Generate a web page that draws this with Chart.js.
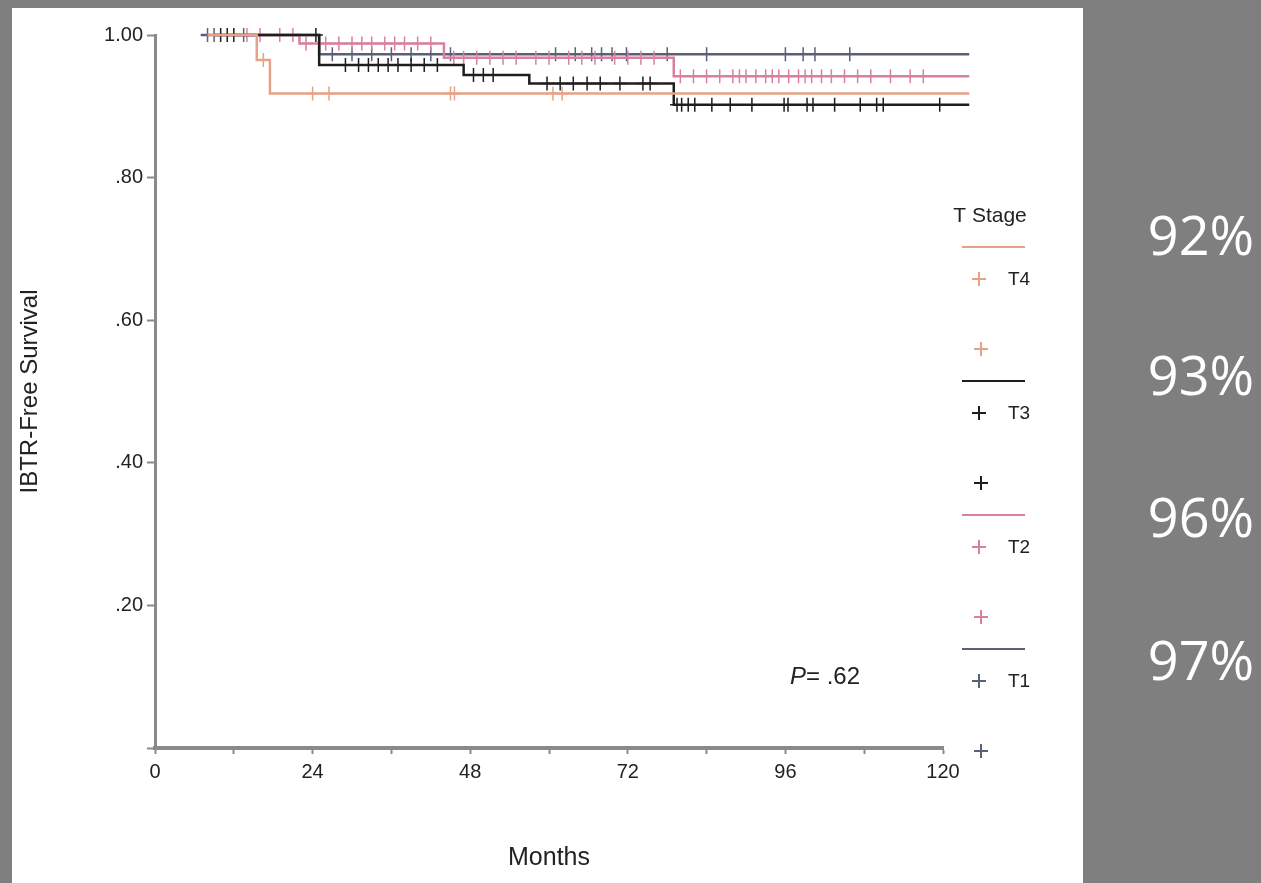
<!DOCTYPE html>
<html>
<head>
<meta charset="utf-8">
<script src="https://cdn.jsdelivr.net/npm/chart.js@4.4.1/dist/chart.umd.min.js"></script>
<style>
  html, body { margin: 0; padding: 0; }
  body { width: 1261px; height: 883px; background: #7f7f7f; position: relative; overflow: hidden; }
  #panel { position: absolute; left: 12px; top: 8px; width: 1071px; height: 875px; background: #fff; }
  .pct { position: absolute; left: 1101px; width: 200px; text-align: center; color: #fff;
         font-family: "Open Sans", sans-serif; font-size: 54px; line-height: 60px; }
</style>
</head>
<body>
<div id="panel"><canvas id="km" width="1071" height="875"></canvas></div>
<div id="pcts"></div>
<script>
// Kaplan-Meier steps (months, survival) per T stage
const groups = ['T4', 'T3', 'T2', 'T1'];

const t4Times = [8, 15.5, 17.5, 124];
const t4Surv = [1.0, 0.965, 0.918, 0.918];
const t4Censor = [16.5, 24, 26.5, 45, 45.6, 60.6, 62];

const t3Times = [9, 25, 47, 57, 79, 124];
const t3Surv = [1.0, 0.958, 0.944, 0.932, 0.902, 0.902];
const t3Censor = [10, 11, 12, 24.5, 29, 31, 32.5, 34, 35.5, 37, 39, 41, 43, 48.5, 50, 51.5,
  59.7, 61.7, 63.7, 65.8, 67.8, 70.8, 74.3, 75.4, 79.5, 80.2, 81.2, 82.2, 84.8, 87.6, 90.9,
  95.8, 96.4, 99.3, 100.2, 103.5, 107.4, 109.9, 110.9, 119.5];

const t2Times = [12, 22, 44, 79, 124];
const t2Surv = [1.0, 0.988, 0.968, 0.942, 0.942];
const t2Censor = [14, 16, 19, 21, 23, 26, 28, 30, 31.5, 33, 35, 36.5, 38, 40, 42, 45.5, 47, 49,
  51, 53, 55, 58, 60, 63, 65, 67, 70, 72, 74, 76, 80, 82, 84, 86, 88, 89, 90, 91.5, 93, 94, 95,
  96.5, 98, 99, 100, 101.5, 103, 105, 107, 109, 112, 115, 117];

const t1Times = [7, 25, 124];
const t1Surv = [1.0, 0.973, 0.973];
const t1Censor = [8, 9, 13.5, 27, 30, 33, 36, 39, 42, 45, 61, 64, 66.5, 68, 69.6, 71.8, 78, 84,
  96, 98.7, 100.5, 105.8];

const colors = ['#e6a286', '#1e1e1e', '#d9809f', '#5b6079'];
const pctLabels = ['92%', '93%', '96%', '97%'];
const pctTops = [204, 344, 486, 629];

const xTicks = [0, 24, 48, 72, 96, 120];
const pValue = '.62';

const allTimes = [t4Times, t3Times, t2Times, t1Times];
const allSurv = [t4Surv, t3Surv, t2Surv, t1Surv];
const allCensor = [t4Censor, t3Censor, t2Censor, t1Censor];

function survAt(times, surv, t) {
  let s = 1;
  times.forEach((tt, i) => { if (tt <= t) s = surv[i]; });
  return s;
}

const datasets = [];
groups.forEach((g, i) => {
  datasets.push({
    label: g,
    data: allTimes[i].map((t, j) => ({ x: t, y: allSurv[i][j] })),
    showLine: true,
    borderColor: colors[i],
    borderWidth: 2.5,
    stepped: true,
    pointRadius: 0,
    fill: false,
    clip: false
  });
  datasets.push({
    label: g + ' censored',
    data: allCensor[i].map(t => ({ x: t, y: survAt(allTimes[i], allSurv[i], t) })),
    showLine: false,
    pointStyle: 'cross',
    pointRadius: 7,
    pointBorderWidth: 1.5,
    pointBorderColor: colors[i],
    borderColor: colors[i],
    clip: false
  });
});

// SPSS-style legend + P value drawn next to the plot
const sideLegend = {
  id: 'sideLegend',
  afterDraw(chart) {
    const { ctx, chartArea } = chart;
    const x0 = chartArea.right;
    ctx.save();
    ctx.fillStyle = '#222';
    ctx.font = '21px "Liberation Sans", Arial, sans-serif';
    ctx.textAlign = 'center';
    ctx.textBaseline = 'middle';
    ctx.fillText('T Stage', x0 + 47, 208);

    const cross = (x, y, c) => {
      ctx.strokeStyle = c;
      ctx.lineWidth = 2;
      ctx.beginPath();
      ctx.moveTo(x - 7, y); ctx.lineTo(x + 7, y);
      ctx.moveTo(x, y - 7); ctx.lineTo(x, y + 7);
      ctx.stroke();
    };
    groups.forEach((g, k) => {
      const ly = 239 + k * 134;
      ctx.strokeStyle = colors[k];
      ctx.lineWidth = 2;
      ctx.beginPath();
      ctx.moveTo(x0 + 19, ly); ctx.lineTo(x0 + 82, ly);
      ctx.stroke();
      cross(x0 + 36, ly + 32, colors[k]);
      cross(x0 + 38, ly + 102, colors[k]);
      ctx.fillStyle = '#222';
      ctx.font = '19px "Liberation Sans", Arial, sans-serif';
      ctx.textAlign = 'left';
      ctx.fillText(g, x0 + 65, ly + 33);
    });

    ctx.textAlign = 'left';
    ctx.font = 'italic 24px "Liberation Sans", Arial, sans-serif';
    ctx.fillText('P', 778, 669);
    const pw = ctx.measureText('P').width;
    ctx.font = '24px "Liberation Sans", Arial, sans-serif';
    ctx.fillText('= ' + pValue, 778 + pw, 669);
    ctx.restore();
  }
};

new Chart(document.getElementById('km'), {
  type: 'scatter',
  data: { datasets },
  options: {
    responsive: false,
    animation: false,
    layout: { padding: { top: 27, right: 140, left: 0, bottom: 0 } },
    plugins: { legend: { display: false }, tooltip: { enabled: false } },
    scales: {
      x: {
        type: 'linear',
        min: 0,
        max: 120,
        afterBuildTicks: scale => {
          const t = [];
          for (let v = 0; v <= 120; v += 12) t.push({ value: v });
          scale.ticks = t;
        },
        afterFit: scale => { scale.height = 135; },
        ticks: {
          autoSkip: false,
          maxRotation: 0,
          padding: 6,
          color: '#222',
          font: { family: '"Liberation Sans", Arial, sans-serif', size: 20 },
          callback: v => (xTicks.includes(v) ? String(v) : '')
        },
        grid: { drawOnChartArea: false, drawTicks: true, tickLength: 6, tickColor: '#8a8a8a', tickWidth: 2 },
        border: { color: '#8a8a8a', width: 4 },
        title: {
          display: true,
          text: 'Months',
          color: '#222',
          font: { family: '"Liberation Sans", Arial, sans-serif', size: 25 },
          padding: { top: 0, bottom: 10 }
        }
      },
      y: {
        min: 0,
        max: 1,
        afterFit: scale => { scale.width = 143; },
        ticks: {
          stepSize: 0.2,
          padding: 4,
          color: '#222',
          font: { family: '"Liberation Sans", Arial, sans-serif', size: 20 },
          callback: v => (v === 0 ? '' : v >= 1 ? '1.00' : '.' + Math.round(v * 100))
        },
        grid: { drawOnChartArea: false, drawTicks: true, tickLength: 8, tickColor: '#8a8a8a', tickWidth: 2 },
        border: { color: '#8a8a8a', width: 3 },
        title: {
          display: true,
          text: 'IBTR-Free Survival',
          color: '#222',
          font: { family: '"Liberation Sans", Arial, sans-serif', size: 24 },
          padding: { top: 4, bottom: 0 }
        }
      }
    }
  },
  plugins: [sideLegend]
});

// percentage labels on the grey margin
const pcts = document.getElementById('pcts');
pctLabels.forEach((p, i) => {
  const d = document.createElement('div');
  d.className = 'pct';
  d.style.top = pctTops[i] + 'px';
  d.textContent = p;
  pcts.appendChild(d);
});
</script>
</body>
</html>
